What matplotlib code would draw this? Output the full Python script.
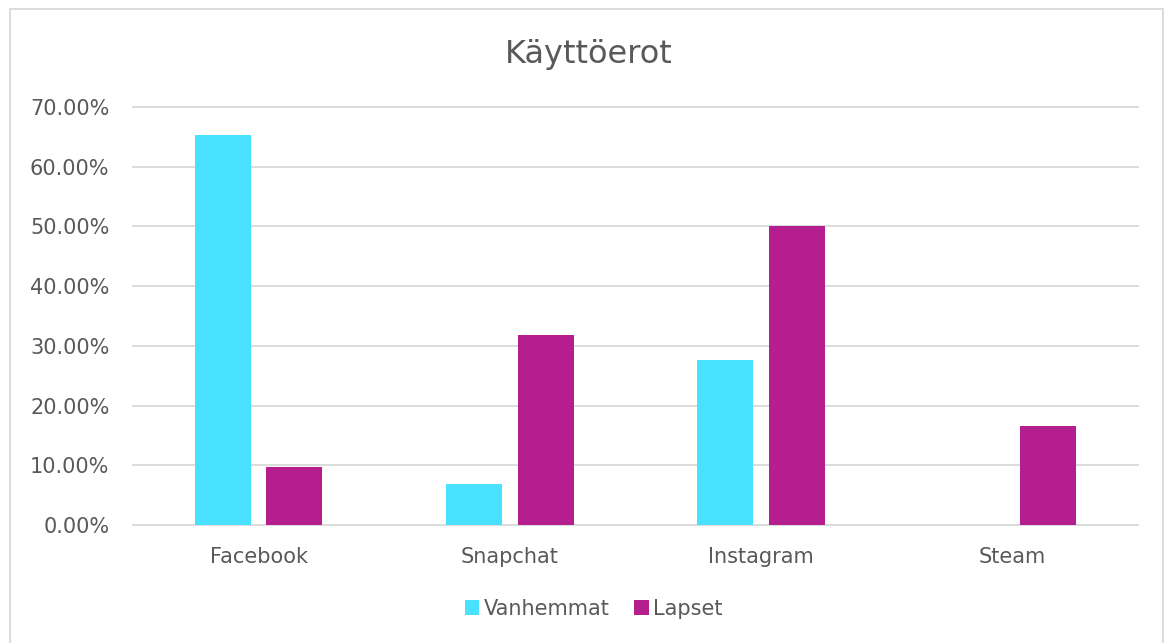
import numpy as np
import matplotlib.pyplot as plt
from matplotlib.patches import Rectangle
from matplotlib.ticker import FuncFormatter

categories = ['Facebook', 'Snapchat', 'Instagram', 'Steam']
vanhemmat = [65.3, 6.9, 27.7, 0.0]
lapset = [9.7, 31.9, 50.0, 16.6]
series_names = ['Vanhemmat', 'Lapset']

cyan = '#48E1FF'
magenta = '#B41E8E'
text_gray = '#595959'
grid_gray = '#D9D9D9'

plt.rcParams['font.family'] = ['DejaVu Sans']

fig = plt.figure(figsize=(11.71, 6.43), dpi=100)
ax = fig.add_axes([133/1171, 1-525/643, (1138-133)/1171, (525-107)/643])

x = np.arange(len(categories))
w = 0.223
off = 0.142
ax.bar(x - off, vanhemmat, w, color=cyan, label=series_names[0], zorder=3)
ax.bar(x + off, lapset, w, color=magenta, label=series_names[1], zorder=3)

ax.set_xlim(-0.5, len(categories) - 0.5)
ax.set_ylim(0, 70)
ax.set_yticks(np.arange(0, 71, 10))
ax.yaxis.set_major_formatter(FuncFormatter(lambda v, p: '%.2f%%' % v))
ax.set_xticks(x)
ax.set_xticklabels(categories)
ax.tick_params(axis='both', length=0, labelsize=15, labelcolor=text_gray)
ax.tick_params(axis='y', pad=17)
ax.tick_params(axis='x', pad=16)
ax.grid(axis='y', color=grid_gray, linewidth=1.3, zorder=0)
for gl in ax.get_ygridlines():
    gl.set_clip_on(False)
for s in ax.spines.values():
    s.set_visible(False)

fig.text(0.503, 1-55/643, 'Käyttöerot', ha='center', va='center',
         fontsize=23, color=text_gray)

fig.legend(loc='center', bbox_to_anchor=(0.507, 1-609/643), ncol=2,
           frameon=False, fontsize=15, labelcolor=text_gray,
           handlelength=0.7, handleheight=0.7, handletextpad=0.2,
           columnspacing=1.2)

fig.patches.append(Rectangle((10/1171, -0.01), (1163-10)/1171, 1-9/643+0.01,
                             transform=fig.transFigure, fill=False,
                             edgecolor=grid_gray, linewidth=1.3))

fig.savefig('out.png', dpi=100)
